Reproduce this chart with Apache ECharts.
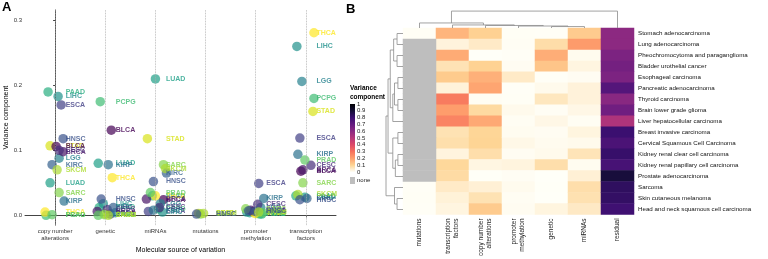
<!DOCTYPE html>
<html>
<head>
<meta charset="utf-8">
<script src="https://cdn.jsdelivr.net/npm/echarts@6/dist/echarts.min.js"></script>
<style>
  html, body { margin: 0; padding: 0; background: #fff; }
  #chart { width: 768px; height: 259px; }
</style>
</head>
<body>
<div id="chart"></div>
<script>
// cancer types, in heatmap row order
const cancerCodes = ['STAD', 'LUAD', 'PCPG', 'BLCA', 'ESCA', 'PAAD', 'THCA', 'LGG', 'LIHC',
  'BRCA', 'CESC', 'KIRC', 'KIRP', 'PRAD', 'SARC', 'SKCM', 'HNSC'];
const cancerNames = ['Stomach adenocarcinoma', 'Lung adenocarcinoma', 'Pheochromocytoma and paraganglioma',
  'Bladder urothelial cancer', 'Esophageal carcinoma', 'Pancreatic adenocarcinoma', 'Thyroid carcinoma',
  'Brain lower grade glioma', 'Liver hepatocellular carcinoma', 'Breast invasive carcinoma',
  'Cervical Squamous Cell Carcinoma', 'Kidney renal clear cell carcinoma', 'Kidney renal papillary cell carcinoma',
  'Prostate adenocarcinoma', 'Sarcoma', 'Skin cutaneous melanoma', 'Head and neck squamous cell carcinoma'];

// variance components per molecular source (same order as cancerCodes)
const cnaValues = [0.107, 0.05, 0.0, 0.106, 0.17, 0.19, 0.005, 0.088, 0.183, 0.098, 0.1, 0.078, 0.022, 0.001, 0.035, 0.07, 0.118];
const geneticValues = [0.002, 0.08, 0.175, 0.131, 0.002, 0.012, 0.058, 0.004, 0.018, 0.006, 0.009, 0.012, 0.078, 0.0, 0.001, 0.0, 0.025];
const mirnaValues = [0.118, 0.21, 0.01, 0.024, 0.006, 0.03, 0.03, 0.018, 0.005, 0.025, 0.012, 0.065, 0.008, 0.035, 0.078, 0.072, 0.052];
const mutationValues = [0.003, null, null, null, null, null, null, null, null, null, null, null, null, null, 0.002, 0.003, 0.002];
const methylationValues = [0.003, 0.004, 0.002, 0.006, 0.049, 0.002, 0.003, 0.012, 0.005, 0.008, 0.017, 0.006, 0.026, 0.004, 0.01, 0.005, 0.007];
const tfValues = [0.16, 0.028, 0.18, 0.068, 0.119, 0.03, 0.281, 0.206, 0.26, 0.07, 0.077, 0.026, 0.094, 0.085, 0.05, 0.032, 0.024];
const residualValues = [0.6, 0.6, 0.64, 0.66, 0.64, 0.74, 0.61, 0.67, 0.52, 0.8, 0.76, 0.81, 0.77, 0.89, 0.83, 0.82, 0.79];

// horizontal jitter of each point in panel A (category units)
const cnaJitter = [-0.1, -0.1, -0.18, 0.02, 0.12, -0.14, -0.2, 0.08, 0.06, 0.16, 0.08, -0.06, 0.18, -0.06, 0.08, 0.04, 0.16];
const geneticJitter = [0.0, -0.14, -0.1, 0.12, 0.1, -0.12, 0.14, 0.2, -0.04, -0.16, 0.04, 0.16, 0.06, -0.14, -0.02, 0.06, -0.08];
const mirnaJitter = [-0.16, 0.0, 0.06, 0.16, -0.14, -0.06, 0.0, 0.1, 0.14, -0.18, 0.08, 0.22, -0.04, -0.1, 0.16, 0.2, -0.04];
const mutationJitter = [-0.14, 0, 0, 0, 0, 0, 0, 0, 0, 0, 0, 0, 0, 0, -0.1, -0.04, -0.18];
const methylationJitter = [0.02, -0.12, 0.08, -0.06, 0.06, 0.12, -0.02, 0.1, -0.18, -0.1, 0.04, 0.0, 0.16, 0.14, -0.2, 0.06, -0.14];
const tfJitter = [0.14, -0.02, 0.16, -0.1, -0.12, -0.2, 0.16, -0.08, -0.18, -0.06, 0.1, 0.02, -0.16, -0.02, -0.06, -0.16, -0.12];

// panel A x categories
const sourceLabels = ['copy number\nalterations', 'genetic', 'miRNAs', 'mutations', 'promoter\nmethylation', 'transcription\nfactors'];
// panel B columns
const heatColumns = ['mutations', 'transcription\nfactors', 'copy number\nalterations', 'promoter\nmethylation', 'genetic', 'miRNAs', 'residual'];
const yTicks = [0, 0.1, 0.2, 0.3];

// clustering trees: [childA, childB, height]; ids >= leaf count refer to earlier merges
const rowMerges = [[0, 1, 0.35], [2, 3, 0.35], [17, 18, 0.55], [4, 5, 0.3], [6, 7, 0.3], [20, 21, 0.5],
  [22, 8, 0.6], [19, 23, 0.75], [9, 10, 0.3], [11, 12, 0.3], [26, 13, 0.45], [25, 27, 0.6],
  [24, 28, 0.88], [15, 16, 0.35], [14, 30, 0.5], [29, 31, 1.0]];
const colMerges = [[4, 5, 0.08], [3, 7, 0.11], [2, 8, 0.14], [1, 9, 0.17], [0, 10, 0.28], [11, 6, 0.94]];

// viridis by cancer (alphabetical), magma-like fill scale for the heatmap
const cancerColors = ['#d8e219', '#1fa088', '#3fbc73', '#440154', '#424086', '#28ae80', '#fde725', '#26828e', '#21918c',
  '#481668', '#472d7b', '#34618d', '#2c728e', '#5ec962', '#84d44b', '#addc30', '#3b528b'];
const scaleColors = ['#fffff8', '#fed595', '#fea06d', '#f7725c', '#de4968', '#b73779', '#8c2981', '#641a80', '#3b0f70', '#140e36', '#000004'];

const panelValues = [cnaValues, geneticValues, mirnaValues, mutationValues, methylationValues, tfValues];
const panelJitter = [cnaJitter, geneticJitter, mirnaJitter, mutationJitter, methylationJitter, tfJitter];

const points = [];
const labels = [];
panelValues.forEach((vals, ci) => {
  vals.forEach((v, k) => {
    if (v == null) return;
    points.push({ value: [ci + panelJitter[ci][k], v], itemStyle: { color: cancerColors[k] } });
    labels.push({ value: [ci + 0.2, v], name: cancerCodes[k], label: { color: cancerColors[k] } });
  });
});

const heatValues = [mutationValues, tfValues, cnaValues, methylationValues, geneticValues, mirnaValues, residualValues];
const heatData = [];
const naData = [];
heatValues.forEach((vals, ci) => {
  vals.forEach((v, ri) => {
    if (v == null) naData.push([ci, ri, 0]);
    else heatData.push([ci, ri, v]);
  });
});

function dendroSegments(merges, nLeaves, horizontal) {
  const pos = [];
  const hgt = [];
  for (let i = 0; i < nLeaves; i++) { pos[i] = i + 0.5; hgt[i] = 0; }
  return merges.map(([a, b, h], k) => {
    pos[nLeaves + k] = (pos[a] + pos[b]) / 2;
    hgt[nLeaves + k] = h;
    let pts = [[pos[a], hgt[a]], [pos[a], h], [pos[b], h], [pos[b], hgt[b]]];
    if (horizontal) pts = pts.map(([p, hh]) => [hh, p]);
    return { coords: pts };
  });
}

const FONT = 'Liberation Sans, Arial, sans-serif';
const chart = echarts.init(document.getElementById('chart'));

const option = {
  animation: false,
  textStyle: { fontFamily: FONT },
  grid: [
    { left: 25, top: 10, width: 311, height: 225 },
    { left: 403, top: 28, width: 231, height: 187 },
    { left: 386, top: 28, width: 17, height: 187 },
    { left: 403, top: 10, width: 231, height: 18 },
    { left: 350, top: 104, width: 5, height: 68 }
  ],
  xAxis: [
    {
      gridIndex: 0, type: 'value', min: -0.6, max: 5.6,
      name: 'Molecular source of variation', nameLocation: 'middle', nameGap: 19,
      nameTextStyle: { fontSize: 7, color: '#000' },
      axisLine: { lineStyle: { color: '#444', width: 1 } },
      axisTick: { customValues: [0, 1, 2, 3, 4, 5], length: 2, lineStyle: { color: '#444' } },
      axisLabel: {
        customValues: [0, 1, 2, 3, 4, 5], fontSize: 6, color: '#333', margin: 3, lineHeight: 7,
        formatter: v => sourceLabels[Math.round(v)]
      },
      splitLine: { show: false }
    },
    {
      gridIndex: 1, type: 'category', data: heatColumns, position: 'bottom',
      axisLine: { show: false }, axisTick: { show: false },
      axisLabel: { rotate: 90, fontSize: 6.5, color: '#222', margin: 4, interval: 0, lineHeight: 8 }
    },
    { gridIndex: 2, type: 'value', min: 0, max: 1, inverse: true, show: false },
    { gridIndex: 3, type: 'value', min: 0, max: 7, show: false },
    { gridIndex: 4, type: 'value', min: 0, max: 1, show: false }
  ],
  yAxis: [
    {
      gridIndex: 0, type: 'value', min: -0.015, max: 0.316,
      name: 'Variance component', nameLocation: 'middle', nameGap: 15, nameRotate: 90,
      nameTextStyle: { fontSize: 7, color: '#000' },
      axisLine: { show: true, lineStyle: { color: '#444', width: 1 } },
      axisTick: { show: true, customValues: yTicks, length: 2, lineStyle: { color: '#444' } },
      axisLabel: { customValues: yTicks, fontSize: 6, color: '#333', margin: 3, formatter: v => v.toFixed(1) },
      splitLine: { show: false }
    },
    {
      gridIndex: 1, type: 'category', data: cancerNames, inverse: true, position: 'right',
      axisLine: { show: false }, axisTick: { show: false },
      axisLabel: { fontSize: 6.2, color: '#111', margin: 4, interval: 0 }
    },
    { gridIndex: 2, type: 'value', min: 0, max: 17, inverse: true, show: false },
    { gridIndex: 3, type: 'value', min: 0, max: 1, show: false },
    {
      gridIndex: 4, type: 'value', min: 0, max: 1, interval: 0.1, position: 'right',
      axisLine: { show: false }, axisTick: { show: false }, splitLine: { show: false },
      axisLabel: { fontSize: 6, color: '#222', margin: 2 }
    }
  ],
  visualMap: {
    type: 'continuous', min: 0, max: 1, show: false, seriesIndex: 2,
    inRange: { color: scaleColors }
  },
  series: [
    {
      type: 'scatter', xAxisIndex: 0, yAxisIndex: 0, data: points,
      symbolSize: 9.5, itemStyle: { opacity: 0.7 }, silent: true,
      markLine: {
        silent: true, symbol: 'none', label: { show: false },
        lineStyle: { color: '#aaa', type: 'dotted', width: 0.8 },
        data: [0, 1, 2, 3, 4, 5].map(i => ({ xAxis: i }))
      }
    },
    {
      type: 'scatter', xAxisIndex: 0, yAxisIndex: 0, data: labels, silent: true,
      symbolSize: 1, itemStyle: { color: 'transparent' }, z: 5,
      label: {
        show: true, position: 'right', distance: 0, formatter: '{b}',
        fontSize: 7, fontWeight: 'bold', fontFamily: FONT
      }
    },
    {
      type: 'heatmap', xAxisIndex: 1, yAxisIndex: 1, data: heatData, silent: true,
      itemStyle: { borderWidth: 0 }
    },
    {
      type: 'heatmap', xAxisIndex: 1, yAxisIndex: 1, data: naData, silent: true,
      itemStyle: { color: '#bebebe', borderWidth: 0 }
    },
    {
      type: 'lines', coordinateSystem: 'cartesian2d', xAxisIndex: 2, yAxisIndex: 2, polyline: true,
      data: dendroSegments(rowMerges, cancerCodes.length, true), silent: true,
      lineStyle: { color: '#8c8c8c', width: 0.8, opacity: 1 }
    },
    {
      type: 'lines', coordinateSystem: 'cartesian2d', xAxisIndex: 3, yAxisIndex: 3, polyline: true,
      data: dendroSegments(colMerges, heatColumns.length, false), silent: true,
      lineStyle: { color: '#8c8c8c', width: 0.8, opacity: 1 }
    },
    {
      type: 'custom', xAxisIndex: 4, yAxisIndex: 4, data: [[0, 0]], silent: true,
      renderItem: (params) => {
        const cs = params.coordSys;
        return {
          type: 'rect',
          shape: { x: cs.x, y: cs.y, width: cs.width, height: cs.height },
          style: {
            fill: new echarts.graphic.LinearGradient(0, 1, 0, 0,
              scaleColors.map((c, i) => ({ offset: i / (scaleColors.length - 1), color: c })))
          }
        };
      }
    }
  ],
  graphic: [
    { type: 'text', left: 2, top: 1, style: { text: 'A', font: 'bold 13px ' + FONT, fill: '#000' } },
    { type: 'text', left: 346, top: 3, style: { text: 'B', font: 'bold 13px ' + FONT, fill: '#000' } },
    { type: 'text', left: 350, top: 84, style: { text: 'Variance\ncomponent', font: 'bold 6.5px ' + FONT, lineHeight: 9, fill: '#000' } },
    { type: 'rect', left: 350, top: 177, shape: { width: 5, height: 7 }, style: { fill: '#bebebe' } },
    { type: 'text', left: 357, top: 177.5, style: { text: 'none', font: '6px ' + FONT, fill: '#222' } }
  ]
};

chart.setOption(option);
</script>
</body>
</html>
